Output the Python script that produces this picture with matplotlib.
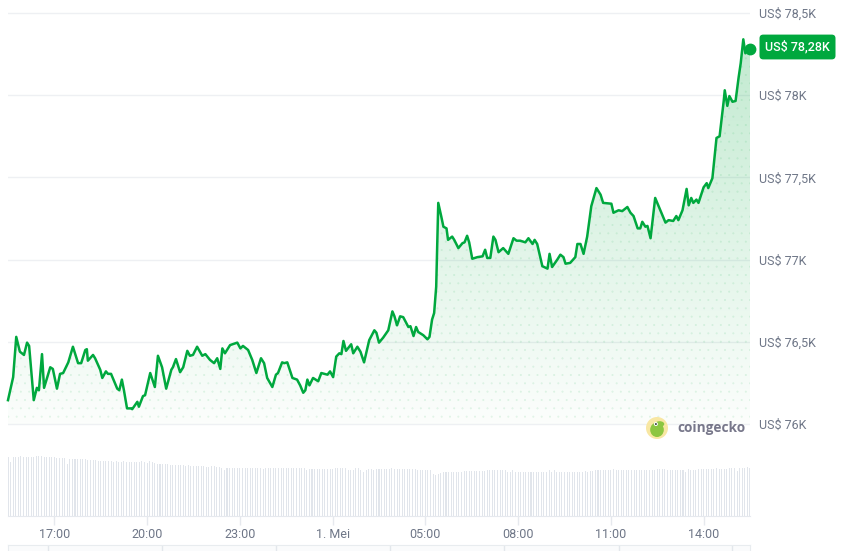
import numpy as np
import matplotlib
matplotlib.use("Agg")
import matplotlib.pyplot as plt
import matplotlib.colors as mcolors
from matplotlib.patches import Circle, Ellipse, PathPatch
from matplotlib.ticker import FuncFormatter

# ---------------------------------------------------------------- data
# minutes since 30 Apr 15:30, BTC price in USD
times = [0, 10, 16, 23, 31, 37, 41, 50, 56, 60,
         66, 70, 82, 87, 95, 101, 107, 117, 126, 136,
         142, 150, 153, 155, 165, 169, 179, 183, 190, 194,
         200, 212, 216, 221, 225, 231, 239, 241, 251, 254,
         262, 266, 276, 285, 291, 299, 307, 317, 320, 326,
         334, 340, 348, 353, 359, 367, 377, 383, 392, 400,
         406, 412, 416, 421, 431, 445, 451, 456, 466, 474,
         482, 491, 497, 503, 513, 520, 524, 532, 536, 542,
         552, 561, 567, 573, 577, 581, 585, 592, 602, 608,
         620, 625, 631, 637, 643, 647, 651, 656, 666, 670,
         678, 684, 691, 701, 711, 715, 720, 728, 738, 746,
         750, 755, 761, 767, 777, 781, 787, 792, 796, 806,
         814, 818, 823, 827, 831, 835, 841, 845, 851, 854,
         862, 866, 874, 882, 886, 891, 895, 901, 911, 921,
         926, 930, 936, 942, 946, 952, 961, 971, 981, 987,
         994, 1004, 1010, 1018, 1022, 1027, 1037, 1047, 1051, 1056,
         1066, 1072, 1078, 1082, 1091, 1101, 1105, 1111, 1117, 1124,
         1132, 1142, 1150, 1155, 1171, 1175, 1185, 1192, 1202, 1208,
         1214, 1222, 1227, 1231, 1237, 1241, 1247, 1256, 1266, 1276,
         1282, 1291, 1297, 1301, 1309, 1317, 1321, 1326, 1330, 1336,
         1340, 1350, 1356, 1359, 1367, 1375, 1381, 1389, 1391, 1396,
         1400, 1406, 1412, 1418, 1422, 1427, 1431, 1435, 1440]

prices = [76145, 76285, 76530, 76440, 76420, 76495, 76475, 76145, 76220, 76205,
          76425, 76220, 76345, 76335, 76215, 76305, 76310, 76375, 76470, 76370,
          76370, 76450, 76455, 76385, 76420, 76400, 76330, 76280, 76320, 76305,
          76305, 76215, 76205, 76270, 76205, 76095, 76095, 76090, 76135, 76105,
          76170, 76175, 76310, 76225, 76415, 76345, 76215, 76330, 76345, 76395,
          76315, 76345, 76445, 76415, 76420, 76470, 76415, 76425, 76390, 76370,
          76400, 76335, 76460, 76430, 76480, 76495, 76460, 76475, 76450, 76390,
          76310, 76400, 76370, 76280, 76225, 76300, 76310, 76375, 76370, 76375,
          76280, 76270, 76235, 76190, 76205, 76270, 76235, 76280, 76260, 76310,
          76300, 76320, 76285, 76410, 76430, 76425, 76505, 76445, 76485, 76430,
          76470, 76440, 76375, 76510, 76570, 76555, 76495, 76525, 76570, 76685,
          76655, 76600, 76655, 76650, 76590, 76595, 76535, 76590, 76560, 76540,
          76515, 76530, 76635, 76675, 76835, 77345, 77260, 77200, 77190, 77120,
          77140, 77120, 77070, 77100, 77105, 77145, 77105, 77005, 77015, 77020,
          77060, 77010, 77010, 77140, 77120, 77045, 77070, 77035, 77130, 77115,
          77115, 77105, 77130, 77095, 77120, 77095, 76960, 76945, 77035, 76955,
          77000, 77030, 77015, 76975, 76980, 77015, 77095, 77095, 77035, 77140,
          77325, 77435, 77395, 77345, 77340, 77285, 77300, 77295, 77320, 77285,
          77265, 77190, 77190, 77230, 77200, 77205, 77130, 77375, 77300, 77225,
          77240, 77235, 77265, 77240, 77300, 77430, 77330, 77375, 77345, 77365,
          77345, 77440, 77465, 77435, 77495, 77740, 77750, 77965, 78030, 77935,
          77995, 77960, 77965, 78110, 78195, 78340, 78255, 78295, 78280]

# 24h volume (billion USD), one bar every 5 minutes
volume = [39.3, 36.0, 39.2, 39.4, 39.3, 40.0, 39.5, 39.3, 39.4, 39.2,
          39.3, 39.9, 40.0, 39.8, 39.4, 39.2, 39.3, 39.4, 39.0, 38.8,
          38.6, 38.7, 38.5, 34.8, 38.0, 38.3, 38.3, 38.2, 38.3, 38.2,
          38.0, 37.3, 37.3, 37.0, 37.0, 36.9, 36.7, 36.6, 36.7, 36.4,
          36.6, 36.0, 36.6, 36.3, 36.3, 36.4, 36.2, 36.0, 36.0, 35.9,
          36.3, 36.0, 36.4, 36.3, 35.3, 36.6, 35.9, 35.6, 34.7, 34.7,
          34.7, 34.6, 34.7, 34.0, 34.0, 34.1, 33.9, 33.7, 33.7, 33.6,
          33.7, 33.3, 33.0, 33.0, 33.0, 33.1, 33.0, 32.9, 32.7, 33.0,
          33.0, 32.7, 32.7, 32.3, 30.7, 32.0, 32.2, 32.2, 32.2, 32.2,
          32.2, 32.3, 32.2, 32.2, 32.3, 32.2, 32.2, 32.3, 32.2, 31.1,
          32.2, 32.3, 32.2, 32.2, 32.3, 32.2, 32.0, 32.0, 32.0, 32.2,
          32.2, 32.2, 32.3, 32.2, 32.2, 32.2, 30.7, 31.5, 31.5, 31.6,
          31.5, 31.1, 31.1, 31.1, 31.2, 31.1, 31.1, 31.8, 31.8, 31.8,
          31.8, 31.8, 30.9, 30.9, 30.9, 31.8, 31.8, 30.5, 29.3, 30.7,
          31.1, 31.1, 30.5, 31.1, 31.1, 31.1, 31.1, 31.1, 31.1, 31.8,
          31.1, 31.1, 31.1, 31.2, 31.1, 31.1, 31.1, 31.1, 31.0, 30.5,
          30.5, 30.5, 30.4, 30.5, 30.5, 28.2, 27.1, 27.8, 28.9, 29.5,
          29.5, 29.5, 29.6, 29.5, 29.5, 29.5, 29.6, 30.0, 30.0, 30.0,
          30.0, 30.0, 30.0, 30.1, 30.0, 30.0, 30.5, 30.5, 30.5, 30.5,
          30.5, 30.5, 30.5, 30.5, 29.5, 29.6, 30.5, 29.5, 29.5, 29.5,
          29.5, 29.5, 29.6, 29.5, 29.5, 29.5, 29.6, 29.5, 29.5, 29.5,
          30.5, 29.5, 30.4, 29.5, 29.5, 29.5, 29.6, 29.5, 29.5, 29.5,
          29.5, 29.5, 29.5, 29.5, 30.2, 29.5, 30.0, 30.0, 30.5, 30.5,
          30.5, 30.5, 30.5, 30.5, 30.5, 31.1, 30.5, 30.5, 30.5, 30.5,
          30.5, 30.5, 30.4, 30.5, 30.5, 30.5, 30.5, 30.4, 30.5, 30.5,
          30.5, 30.5, 31.1, 31.1, 31.1, 31.1, 30.5, 30.5, 30.5, 30.5,
          30.5, 30.5, 30.5, 29.5, 31.1, 30.5, 30.5, 30.5, 31.1, 31.1,
          31.1, 31.1, 31.1, 31.1, 31.5, 31.8, 31.1, 31.1, 31.1, 31.1,
          31.8, 31.8, 31.8, 30.0, 31.8, 31.8, 32.2, 32.5, 32.0]
vol_times = [5 * i for i in range(len(volume))]

tick_times = [90, 270, 450, 630, 810, 990, 1170, 1350]
tick_labels = ["17:00", "20:00", "23:00", "1. Mei", "05:00", "08:00", "11:00", "14:00"]
price_ticks = [76000, 76500, 77000, 77500, 78000, 78500]
nav_ticks = [78, 299, 520, 742, 963, 1185, 1406]

GREEN = "#00a83e"
GRID = "#eef0f3"
LABEL = "#6e7687"

plt.rcParams['font.family'] = ['Roboto', 'DejaVu Sans']
plt.rcParams['hatch.linewidth'] = 0.3

W, H = 845, 551
fig = plt.figure(figsize=(W / 100, H / 100), dpi=100)


def box(x0, y0, x1, y1):
    # pixel box (origin top-left) -> figure fraction rect
    return [x0 / W, 1 - y1 / H, (x1 - x0) / W, (y1 - y0) / H]


# ---------------------------------------------------------------- price
ax = fig.add_axes(box(8, 5, 750, 430))
px_per_usd = 411 / 2500.0
ylo = 76000 - 6 / px_per_usd
yhi = 78500 + 8 / px_per_usd

grad = np.zeros((256, 1, 4))
grad[..., :3] = mcolors.to_rgb(GREEN)
grad[:, 0, 3] = np.linspace(0.015, 0.26, 256)
img = ax.imshow(grad, extent=[0, 1440, 76000, 78500], origin='lower',
                aspect='auto', zorder=1, interpolation='bilinear')
fill = ax.fill_between(times, prices, 76000, facecolor='none', edgecolor='none',
                       linewidth=0, zorder=2)
area = fill.get_paths()[0]
img.set_clip_path(area, transform=ax.transData)
# faint dotted texture inside the area
ax.add_patch(PathPatch(area, facecolor='none', edgecolor='#00a83e16', hatch='..',
                       linewidth=0, zorder=2))

for p in price_ticks:
    ax.axhline(p, color=GRID, lw=1, zorder=0)

ax.plot(times, prices, color=GREEN, lw=1.8, solid_joinstyle='round',
        clip_on=False, zorder=5)
ax.plot(times[-1], prices[-1], 'o', ms=7.5, color=GREEN, clip_on=False, zorder=6)

ax.set_xlim(0, 1440)
ax.set_ylim(ylo, yhi)
for s in ax.spines.values():
    s.set_visible(False)
ax.set_xticks([])
ax.yaxis.tick_right()
ax.set_yticks(price_ticks)
ax.yaxis.set_major_formatter(FuncFormatter(
    lambda v, pos: "US$ %sK" % ("%g" % (v / 1000)).replace('.', ',')))
ax.tick_params(axis='y', length=0, pad=6.5, labelsize=9, labelcolor=LABEL)

# current price tag
fig.text(797.5 / W, 1 - 47 / H, "US$ %s" % ("%.2fK" % (prices[-1] / 1000)).replace('.', ','),
         color='white', fontsize=9, fontweight='medium', ha='center', va='center',
         bbox=dict(boxstyle='round,pad=0.45,rounding_size=0.3', fc=GREEN, ec='none'))

# ---------------------------------------------------------------- volume
axv = fig.add_axes(box(8, 445, 750, 516))
axv.bar(vol_times, volume, width=2.0, color='#e1e5eb', linewidth=0)
axv.set_xlim(0, 1440)
axv.set_ylim(0, 47.3)
for k in ['top', 'left', 'right']:
    axv.spines[k].set_visible(False)
axv.spines['bottom'].set_color('#e6e9ee')
axv.set_yticks([])
axv.set_xticks(tick_times)
axv.set_xticklabels(tick_labels)
axv.tick_params(axis='x', length=6.5, width=1, color='#e6e9ee', pad=2,
                labelsize=9, labelcolor=LABEL)

# navigator strip at the very bottom
axn = fig.add_axes(box(8, 545, 750, 565))
axn.set_facecolor('#fafbfc')
for s in axn.spines.values():
    s.set_color('#e8ecef')
axn.set_xlim(0, 1440)
axn.set_xticks([])
axn.set_yticks([])
for t in nav_ticks:
    axn.axvline(t, color='#e3e7ec', lw=1)

# ---------------------------------------------------------------- watermark
axl = fig.add_axes(box(646, 417, 668, 439))
axl.set_xlim(0, 1)
axl.set_ylim(0, 1)
axl.axis('off')
axl.add_patch(Circle((0.5, 0.5), 0.5, fc='#f8e7a3', ec='none'))
axl.add_patch(Ellipse((0.5, 0.42), 0.62, 0.66, fc='#8cc641', ec='none'))
axl.add_patch(Ellipse((0.62, 0.68), 0.42, 0.26, fc='#8cc641', ec='none'))
axl.add_patch(Circle((0.45, 0.68), 0.09, fc='white', ec='none'))
axl.add_patch(Circle((0.45, 0.68), 0.045, fc='#3a3a3a', ec='none'))
fig.text(677 / W, 1 - 428 / H, "coingecko", fontsize=9.8, fontweight='bold',
         color='#77778a', ha='left', va='center', family=['Open Sans', 'DejaVu Sans'])

fig.savefig("out.png", dpi=100)
